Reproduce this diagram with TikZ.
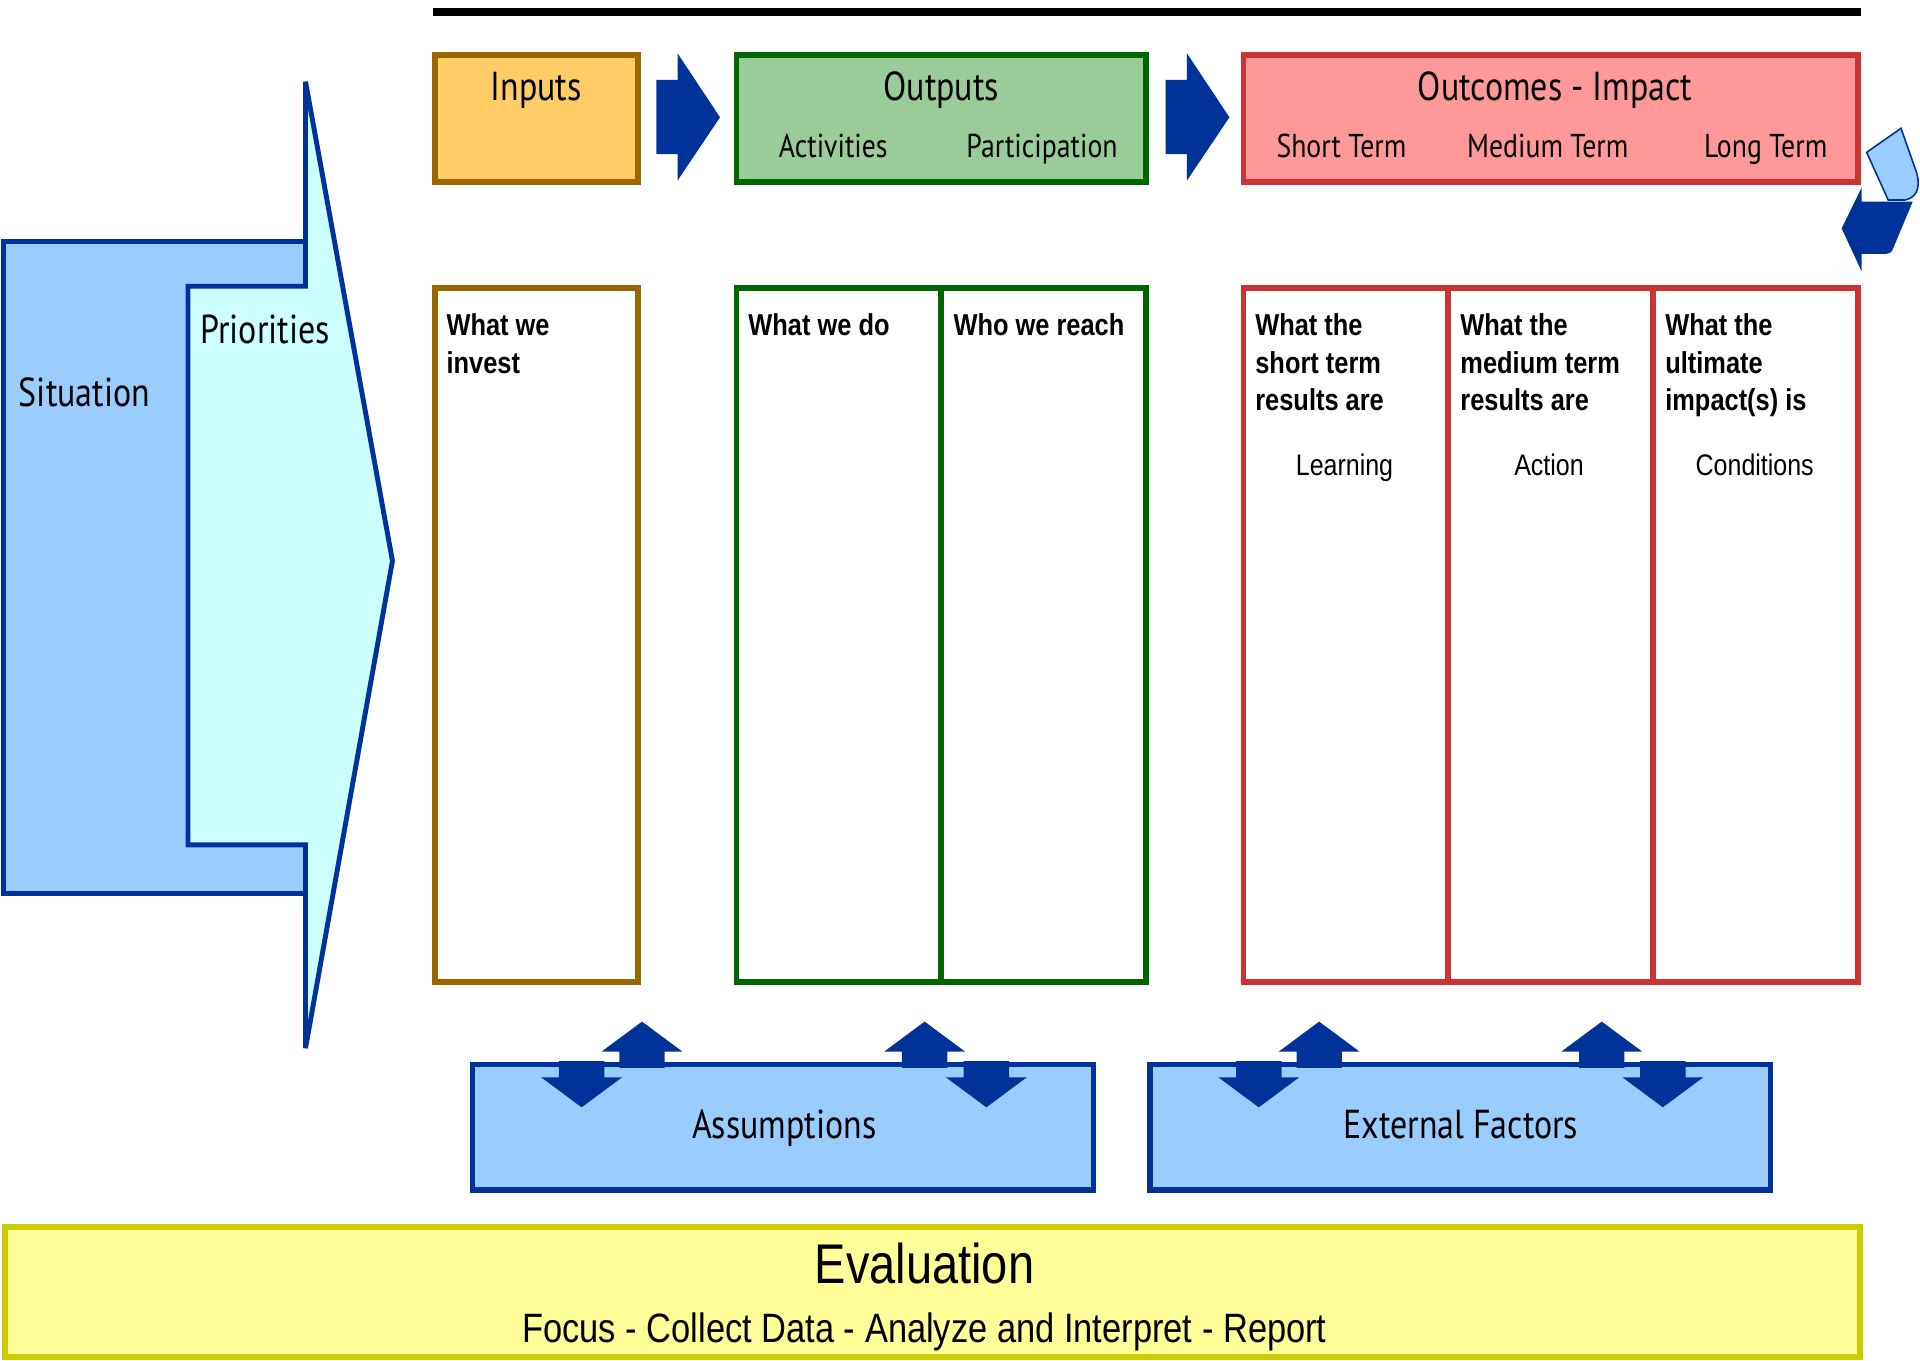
\documentclass[tikz,border=0pt]{standalone}
\usepackage{fontspec}
\newfontfamily\myr[FakeStretch=0.84]{PT Sans}
\newfontfamily\ari[FakeStretch=0.84]{Liberation Sans}
\definecolor{inbd}{HTML}{996600}
\definecolor{infill}{HTML}{FFCC66}
\definecolor{outbd}{HTML}{006600}
\definecolor{outfill}{HTML}{99CC99}
\definecolor{ocbd}{HTML}{CC3333}
\definecolor{ocfill}{HTML}{FF9999}
\definecolor{dblue}{HTML}{003399}
\definecolor{lblue}{HTML}{99CCFF}
\definecolor{cyanf}{HTML}{CCFFFF}
\definecolor{evfill}{HTML}{FFFF99}
\definecolor{evbd}{HTML}{CCCC00}
\begin{document}
\begin{tikzpicture}[x=1pt,y=-1pt,
  bx/.style={draw, line width=4.8pt, inner sep=0pt, outer sep=0pt},
  topbox/.style={bx, minimum height=103.5pt},
  colbox/.style={bx, fill=white, minimum height=567pt},
  ttl/.style={anchor=base, inner sep=0pt, font=\myr\fontsize{33}{40}\selectfont},
  sub/.style={anchor=base, inner sep=0pt, font=\myr\fontsize{27}{32}\selectfont},
  bl/.style={anchor=north west, inner sep=0pt, align=left, font=\ari\bfseries\fontsize{24.7}{30.7}\selectfont},
  res/.style={anchor=base, inner sep=0pt, font=\ari\fontsize{24.3}{28}\selectfont},
  blockarrow/.style={fill=dblue, draw=none}
]
\useasboundingbox (0,0) rectangle (1568,1111);

% top rule
\draw[line width=6.5pt] (353.5,9.5) -- (1520,9.5);

% Situation / Priorities
\draw[line width=4pt, draw=dblue, fill=lblue] (2.5,197.4) rectangle (249.5,730);
\draw[line width=4pt, draw=dblue, fill=cyanf] (153.5,233.8) -- (249.5,233.8) -- (249.5,66.7)
  -- (320.5,458) -- (249.5,856) -- (249.5,690) -- (153.5,690) -- cycle;
\node[ttl] (situation) at (69,331.6) {Situation};
\node[ttl] (priorities) at (216.5,280.4) {Priorities};

% top boxes
\node[topbox, draw=inbd, fill=infill, minimum width=166pt] (inputs) at (438,96.75) {};
\node[topbox, draw=outbd, fill=outfill, minimum width=334.5pt] (outputs) at (768.75,96.75) {};
\node[topbox, draw=ocbd, fill=ocfill, minimum width=501.8pt] (outcomes) at (1266.4,96.75) {};

\node[ttl] (tin) at (438,81.7) {Inputs};
\node[ttl] (tout) at (768.75,81.7) {Outputs};
\node[ttl] (toc) at (1270,81.7) {Outcomes - Impact};
\node[sub] (sact) at (680.5,128.5) {Activities};
\node[sub] (spar) at (851,128.5) {Participation};
\node[sub] (sst) at (1095.5,128.5) {Short Term};
\node[sub] (smt) at (1264,128.5) {Medium Term};
\node[sub] (slt) at (1442,128.5) {Long Term};

% block arrows between top boxes
\foreach \dx in {0,416}{
  \fill[blockarrow, xshift=\dx pt] (536,65.3) -- (553.3,65.3) -- (553.3,43.5) -- (588,95.8)
    -- (553.3,147.5) -- (553.3,125.8) -- (536,125.8) -- cycle;
}

% recycle symbol at right
\draw[line width=1.3pt, draw=dblue, fill=lblue] (1524.4,124.4) -- (1552.5,104.8) -- (1563.8,137)
  .. controls (1569,150) and (1567,161) .. (1556,163.3) -- (1542,163.3) -- cycle;
\fill[dblue] (1520.4,153) -- (1520.4,164.7) -- (1562,164.7) -- (1546,203)
  .. controls (1545,206) and (1543,207.4) .. (1539,207.4) -- (1520.4,207.4) -- (1520.4,221.9)
  -- (1504,186.5) -- cycle;

% lower columns
\node[colbox, draw=inbd, minimum width=166pt] (c1) at (438,518.5) {};
\node[colbox, draw=outbd, minimum width=167.25pt] (c2) at (685.125,518.5) {};
\node[colbox, draw=outbd, minimum width=167.25pt] (c3) at (852.375,518.5) {};
\node[colbox, draw=ocbd, minimum width=167.3pt] (c4) at (1099.15,518.5) {};
\node[colbox, draw=ocbd, minimum width=167.3pt] (c5) at (1266.45,518.5) {};
\node[colbox, draw=ocbd, minimum width=167.3pt] (c6) at (1433.75,518.5) {};

\node[bl] (q1) at (364.5,256) {What we\\invest};
\node[bl] (q2) at (611,256) {What we do};
\node[bl] (q3) at (778.5,256) {Who we reach};
\node[bl] (q4) at (1025,256) {What the\\short term\\results are};
\node[bl] (q5) at (1192.5,256) {What the\\medium term\\results are};
\node[bl] (q6) at (1359.8,256) {What the\\ultimate\\impact(s) is};
\node[res] (r1) at (1098,388) {Learning};
\node[res] (r2) at (1265,388) {Action};
\node[res] (r3) at (1433,388) {Conditions};

% assumptions / external factors
\node[bx, line width=4.5pt, draw=dblue, fill=lblue, minimum width=507pt, minimum height=102.5pt] (assum) at (639.5,920.75) {};
\node[bx, line width=4.5pt, draw=dblue, fill=lblue, minimum width=507pt, minimum height=102.5pt] (ext) at (1192.5,920.75) {};
\node[ttl] (tas) at (640.5,929.6) {Assumptions};
\node[ttl] (tex) at (1193,929.6) {External Factors};

\foreach \u in {524.3,755.1,1077.3,1308.1}{
  \fill[dblue] (\u-18.5,872) -- (\u-18.5,858.8) -- (\u-33,858.8) -- (\u,834.3)
    -- (\u+33,858.8) -- (\u+18.5,858.8) -- (\u+18.5,872) -- cycle;
}
\foreach \d in {475,805.5,1028,1358}{
  \fill[dblue] (\d-18.6,866.5) -- (\d+18.6,866.5) -- (\d+18.6,879.8) -- (\d+33,879.8)
    -- (\d,904.3) -- (\d-33,879.8) -- (\d-18.6,879.8) -- cycle;
}

% evaluation
\node[bx, line width=5pt, draw=evbd, fill=evfill, minimum width=1515pt, minimum height=106pt] (eval) at (761.5,1055) {};
\node[anchor=base, inner sep=0pt, font=\ari\fontsize{45.7}{50}\selectfont] (tev) at (755,1048) {Evaluation};
\node[anchor=base, inner sep=0pt, font=\ari\fontsize{33.5}{40}\selectfont] (tfoc) at (755,1096.5) {Focus - Collect Data - Analyze and Interpret - Report};
\end{tikzpicture}
\end{document}
